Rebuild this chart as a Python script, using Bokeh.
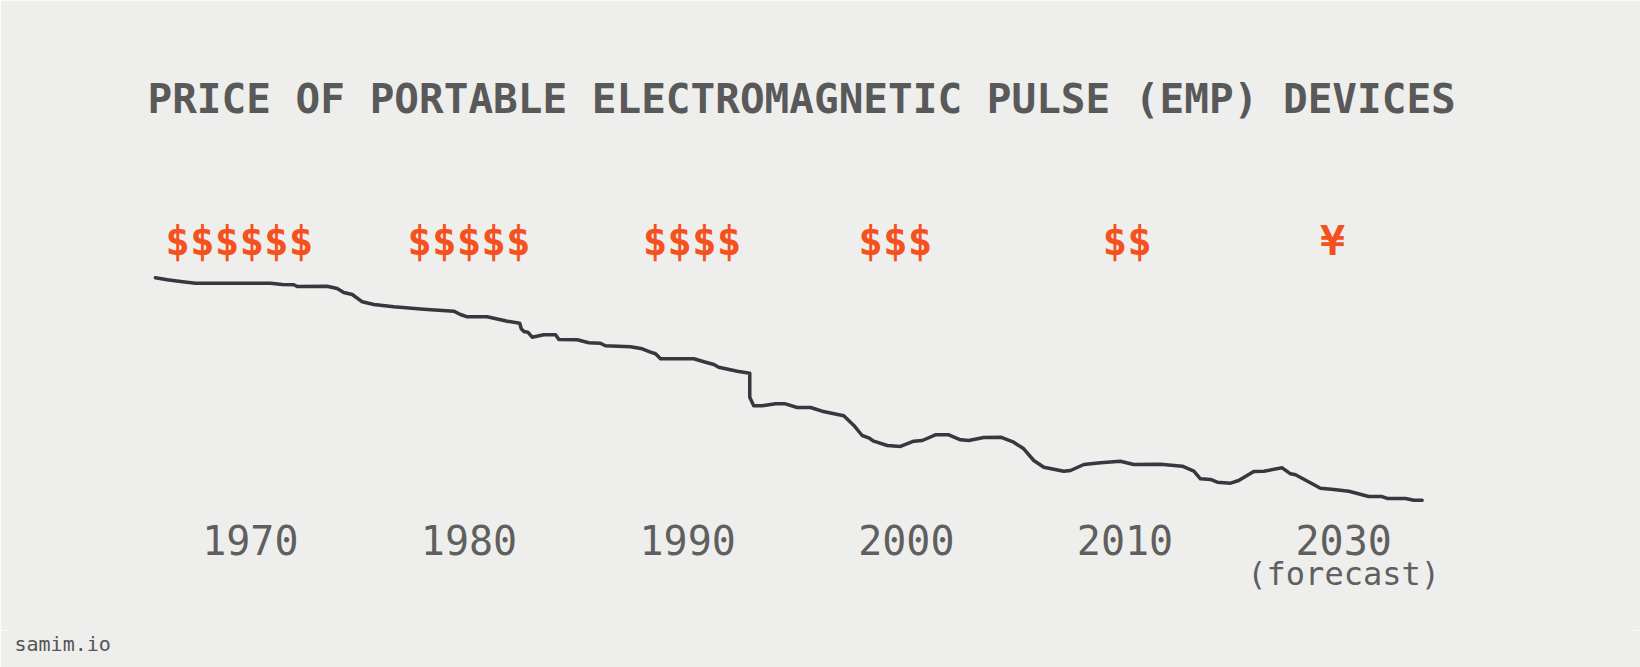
from bokeh.plotting import figure
from bokeh.layouts import column
from bokeh.models import Range1d, FixedTicker, Label, LinearAxis
from bokeh.core.properties import value
from bokeh.embed import file_html
from bokeh.resources import INLINE

# ---- data ----
title_text = "PRICE OF PORTABLE ELECTROMAGNETIC PULSE (EMP) DEVICES"
tick_years = [1970, 1980, 1990, 2000, 2010, 2020]
tick_labels = ["1970", "1980", "1990", "2000", "2010", "2030"]
forecast_note = "(forecast)"
price_symbols = ["$$$$$$", "$$$$$", "$$$$", "$$$", "$$", "¥"]
symbol_years = [1969.5, 1980.0, 1990.2, 1999.5, 2010.1, 2019.5]
credit = "samim.io"

years = [1965.66, 1966.20, 1966.81, 1967.49, 1970.92, 1971.46, 1971.99, 1972.14,
         1973.51, 1973.97, 1974.27, 1974.66, 1975.12, 1975.65, 1976.56, 1977.93,
         1979.30, 1979.61, 1979.92, 1980.83, 1981.75, 1982.32, 1982.39, 1982.51,
         1982.69, 1982.89, 1983.42, 1983.96, 1984.11, 1984.95, 1985.48, 1986.01,
         1986.24, 1987.39, 1987.92, 1988.30, 1988.53, 1988.76, 1990.28, 1990.82,
         1991.20, 1991.42, 1992.27, 1992.84, 1992.84, 1993.02, 1993.41, 1994.02,
         1994.47, 1995.01, 1995.62, 1996.15, 1997.14, 1997.60, 1997.98, 1998.28,
         1998.51, 1999.13, 1999.73, 2000.34, 2000.73, 2001.33, 2001.94, 2002.48,
         2002.86, 2003.54, 2004.31, 2004.91, 2005.37, 2005.83, 2006.29, 2007.20,
         2007.51, 2008.12, 2008.88, 2009.79, 2010.40, 2011.62, 2012.62, 2013.15,
         2013.45, 2013.91, 2014.22, 2014.83, 2015.20, 2015.89, 2016.35, 2017.19,
         2017.57, 2017.80, 2018.94, 2019.55, 2020.24, 2021.15, 2021.76, 2021.99,
         2022.83, 2023.21, 2023.59]
price = [93.98, 93.19, 92.52, 91.85, 91.85, 91.34, 91.22, 90.55,
         90.67, 89.76, 88.19, 87.40, 84.53, 83.46, 82.56, 81.61,
         80.83, 79.53, 78.62, 78.62, 76.89, 76.10, 73.90, 72.83,
         72.56, 70.59, 71.54, 71.54, 69.69, 69.57, 68.39, 68.23,
         67.20, 66.81, 66.02, 64.69, 64.06, 62.09, 62.09, 60.75,
         59.84, 58.78, 57.20, 56.42, 46.97, 43.58, 43.58, 44.37,
         44.37, 42.91, 42.91, 41.46, 39.65, 35.83, 31.89, 30.98,
         29.65, 27.95, 27.56, 29.65, 29.92, 32.17, 32.17, 30.20,
         29.92, 31.10, 31.22, 29.25, 26.65, 22.05, 19.41, 17.83,
         18.11, 20.47, 21.14, 21.77, 20.47, 20.59, 19.80, 17.83,
         14.84, 14.57, 13.50, 13.11, 14.17, 17.72, 17.83, 19.17,
         16.81, 16.42, 11.14, 10.63, 9.96, 7.87, 7.87, 7.09,
         7.09, 6.42, 6.42]

# ---- styles ----
BG = "#EEEEEC"
MONO = "DejaVu Sans Mono"
GREY = "#595959"
TICK_GREY = "#5f5f5f"
ORANGE = "#F4511E"

p = figure(width=1640, height=630, output_backend="svg", toolbar_location=None,
           x_range=Range1d(1958.94, 2033.21), y_range=Range1d(0, 200),
           y_axis_location=None, tools="",
           min_border_left=8, min_border_right=8, min_border_top=8,
           min_border_bottom=114)
p.background_fill_color = BG
p.border_fill_color = BG
p.outline_line_color = BG
p.outline_line_width = 2
p.grid.visible = False


def style_axis(ax, size):
    ax.axis_line_color = None
    ax.major_tick_line_color = None
    ax.minor_tick_line_color = None
    ax.major_tick_out = 0
    ax.major_tick_in = 0
    ax.major_label_text_font = MONO
    ax.major_label_text_font_size = size
    ax.major_label_text_color = TICK_GREY


ax = p.xaxis[0]
ax.ticker = FixedTicker(ticks=tick_years)
ax.major_label_overrides = {t: l for t, l in zip(tick_years, tick_labels)}
style_axis(ax, "40px")
ax.major_label_standoff = 8

# second row of tick text: "(forecast)" under the last tick
ax2 = LinearAxis(ticker=FixedTicker(ticks=[tick_years[-1]]),
                 major_label_overrides={tick_years[-1]: forecast_note})
style_axis(ax2, "32px")
ax2.major_label_standoff = -3
p.add_layout(ax2, "below")

p.line(years, price, line_width=3.5, line_color="#38363e",
       line_join="round", line_cap="round")

p.text(x=symbol_years, y=[108.3] * len(symbol_years), text=price_symbols,
       text_font=value(MONO), text_font_style="bold", text_font_size="41px",
       text_color=ORANGE, text_align="center", text_baseline="alphabetic")

p.add_layout(Label(x=139, y=418, x_units="screen", y_units="screen",
                   text=title_text, text_font=MONO, text_font_style="bold",
                   text_font_size="41px", text_color=GREY,
                   text_baseline="alphabetic", text_align="left"))

# footer strip with the credit
footer = figure(width=1640, height=37, output_backend="svg", toolbar_location=None,
                x_range=Range1d(0, 1640), y_range=Range1d(0, 37),
                x_axis_location=None, y_axis_location=None, tools="",
                min_border=0)
footer.background_fill_color = BG
footer.border_fill_color = BG
footer.outline_line_color = BG
footer.outline_line_width = 3
footer.grid.visible = False
footer.add_layout(Label(x=6, y=24, x_units="screen", y_units="screen",
                        text=credit, text_font=MONO, text_font_size="20px",
                        text_color="#555555", text_baseline="alphabetic",
                        text_align="left"))

page = column(p, footer, spacing=0)
open("out.html", "w").write(file_html(page, INLINE))
